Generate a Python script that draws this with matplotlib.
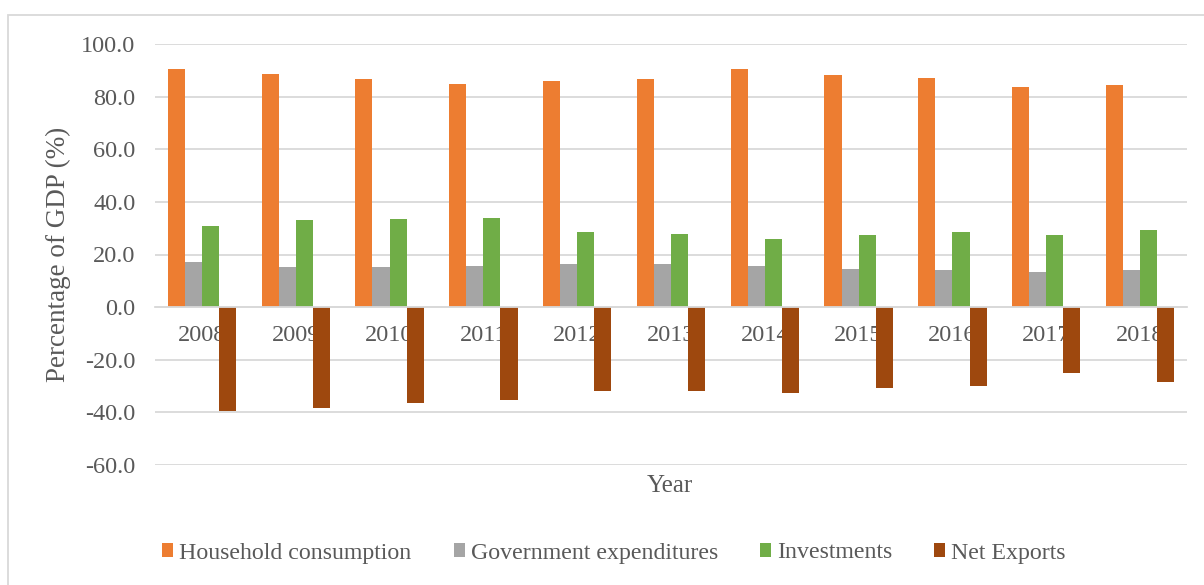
import matplotlib

matplotlib.use("Agg")
import matplotlib.pyplot as plt
from matplotlib.patches import Rectangle
import numpy as np

plt.rcParams["font.family"] = ["Liberation Serif", "DejaVu Serif"]

# GDP composition by expenditure, % of GDP
years = ["2008", "2009", "2010", "2011", "2012", "2013",
         "2014", "2015", "2016", "2017", "2018"]
household = [90.4, 88.7, 86.7, 84.8, 85.9, 86.7, 90.4, 88.2, 86.9, 83.5, 84.5]
government = [17.0, 15.4, 15.4, 15.6, 16.5, 16.5, 15.6, 14.6, 14.0, 13.5, 14.2]
investments = [30.8, 33.1, 33.4, 33.8, 28.7, 27.8, 25.8, 27.6, 28.4, 27.6, 29.5]
net_exports = [-39.4, -38.3, -36.3, -35.3, -31.8, -31.8, -32.6, -30.9, -29.9,
               -25.0, -28.4]

series = [
    ("Household consumption", household, "#ED7D31"),
    ("Government expenditures", government, "#A5A5A5"),
    ("Investments", investments, "#70AD47"),
    ("Net Exports", net_exports, "#9E480E"),
]

W, H = 1204, 585
fig = plt.figure(figsize=(W / 100, H / 100), dpi=100)
ax = fig.add_axes([155 / W, 1 - 465 / H, 1032 / W, 421 / H])

x = np.arange(len(years))
bw = 0.182
for i, (name, vals, col) in enumerate(series):
    ax.bar(x + (i - 1.5) * bw, vals, bw, color=col, label=name, zorder=2)

grid_c = "#D9D9D9"
text_c = "#595959"
ax.set_xlim(-0.5, len(years) - 0.5)
ax.set_ylim(-60, 100)
ax.set_yticks(np.arange(-60, 101, 20))
ax.yaxis.set_major_formatter(matplotlib.ticker.FormatStrFormatter("%.1f"))
ax.grid(axis="y", color=grid_c, lw=1.3)
ax.set_axisbelow(True)

# category axis sits on the zero line, labels just under it
ax.spines["bottom"].set_position(("data", 0))
ax.spines["bottom"].set_color(grid_c)
ax.spines["bottom"].set_linewidth(1.3)
for s in ("top", "right", "left"):
    ax.spines[s].set_visible(False)
ax.set_xticks(x)
ax.set_xticklabels(years)
ax.tick_params(axis="x", length=0, pad=13, labelsize=17.5, labelcolor=text_c)
ax.tick_params(axis="y", length=0, pad=14, labelsize=17.5, labelcolor=text_c)

ax.set_ylabel("Percentage of GDP (%)", fontsize=19.5, color=text_c)
ax.yaxis.set_label_coords(-0.081, 0.5)
fig.text(670 / W, 1 - 486 / H, "Year", fontsize=18, color=text_c,
         ha="center", va="center")

fig.legend(loc="center", bbox_to_anchor=(614 / W, 1 - 553 / H), ncol=4,
           frameon=False, fontsize=17.2, labelcolor=text_c,
           handlelength=0.47, handleheight=0.47, handletextpad=0.25,
           columnspacing=1.75)

# chart area frame
fig.patches.append(Rectangle((8 / W, -0.1), 1.2, 1 - 15 / H + 0.1,
                             transform=fig.transFigure, fill=False,
                             edgecolor=grid_c, lw=1.3))

fig.savefig("out.png", dpi=100)
